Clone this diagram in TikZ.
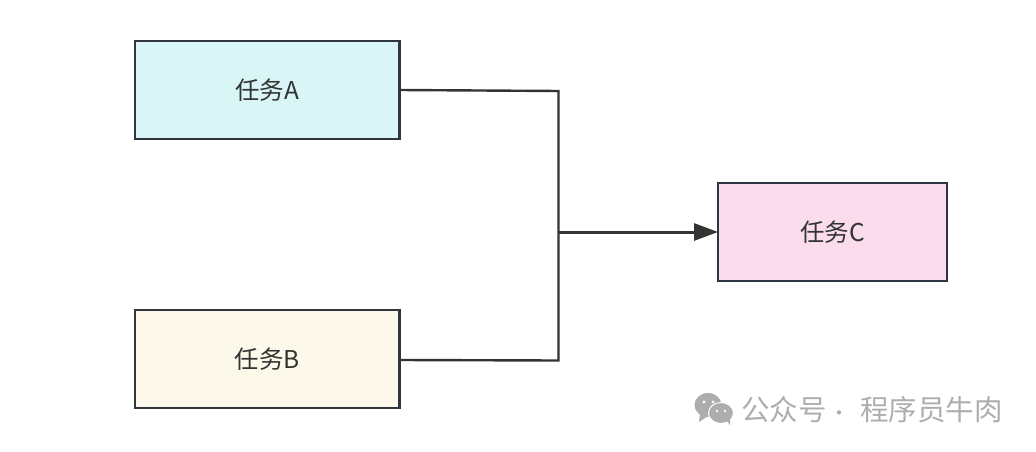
\documentclass[tikz,border=0pt]{standalone}
\usepackage{fontspec}
\setmainfont{Noto Sans CJK SC}
\usetikzlibrary{arrows.meta,positioning}
\definecolor{taskline}{HTML}{2F3640}
\definecolor{taskA}{HTML}{D9F5F6}
\definecolor{taskB}{HTML}{FDF9EA}
\definecolor{taskC}{HTML}{FADCEC}
\definecolor{wmark}{HTML}{ADADAD}
\tikzset{
  % one unit is one pixel of the picture
  x=1pt, y=1pt,
  task/.style={draw=taskline, rectangle, line width=2.3pt, outer sep=0pt,
  minimum height=98pt, text=black!80, font=\fontsize{24.5}{28}\selectfont},
  link/.style={draw=black!80, line width=2.4pt},
  bubble/.style={fill=wmark, draw=white, line width=1pt}}

\begin{document}
\begin{tikzpicture}
\useasboundingbox (0,0) rectangle (1036,451);

\draw (267.3,361) node (a) [task, minimum width=264.5pt, fill=taskA] {任务A};
\draw (267.3,92) node (b) [task, minimum width=264.5pt, fill=taskB] {任务B};
\draw (832.5,219) node (c) [task, minimum width=229pt, fill=taskC] {任务C};

\path (558.5,360) coordinate (upper);
\path (558.5,90.5) coordinate (lower);
\path (558.5,219) coordinate (join);
\path (b.east) ++(0,-1) coordinate (bout);

\draw [link] (a.east) -- (upper) -- (lower) -- (bout);
\draw [link, line width=3pt, -{Triangle[length=24pt,width=17pt]}] (join) -- (c.west);

% watermark
\draw [bubble, draw=none] (708,46) ellipse (13.5 and 12);
\fill [wmark] (700,37) -- (699,29) -- (708,35) -- cycle;
\fill [white] (704,49) circle (1.7);
\fill [white] (713,49) circle (1.7);
\draw [bubble] (721,38) ellipse (12.5 and 10.5);
\fill [wmark] (726,31) -- (730,26) -- (730,33) -- cycle;
\fill [white] (717,40) circle (1.4);
\fill [white] (725,40) circle (1.4);
\draw (872,41) node (mark) [text=wmark, font=\fontsize{28.5}{32}\selectfont] {公众号\kern3pt{}{\fontsize{20}{24}\selectfont ·}\kern4pt{} 程序员牛肉};

\end{tikzpicture}
\end{document}
